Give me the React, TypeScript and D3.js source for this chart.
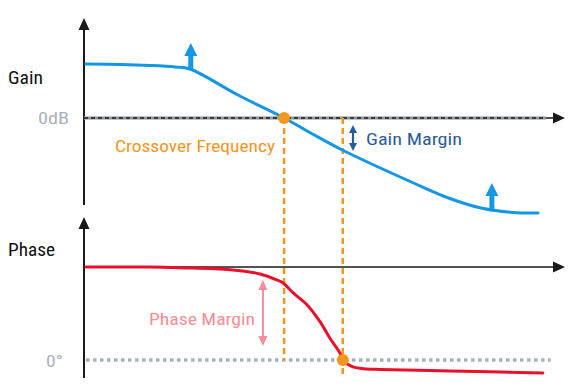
import React from "react";
import * as d3 from "d3";

// frequency index (0..10) vs gain in dB
const gainFreq = [0.04, 0.75, 1.37, 1.89, 2.2, 3.2, 4.16, 4.77, 5.38, 6.15, 6.84, 7.55, 8.23, 8.92, 9.44];
const gainDb = [21.6, 21.4, 21.0, 20.4, 19.6, 9.2, 0, -6.6, -12.9, -19.9, -25.9, -31.8, -35.9, -37.8, -38.0];

// frequency index vs phase in degrees
const phaseFreq = [0.04, 1.37, 2.0, 3.04, 3.66, 4.01, 4.14, 4.35, 4.64, 4.91, 5.11, 5.32, 5.38, 5.59, 5.88, 6.15, 7.61, 9.54];
const phaseDeg = [180, 180, 178.6, 174.8, 166.6, 155.0, 149.2, 129.8, 106.6, 73.6, 42.6, 13.6, 0, -13.6, -17.4, -18.4, -21.3, -25.2];

const crossoverFreq = 4.16;
const phaseCrossFreq = 5.38;
const gainArrowFreqs = [2.22, 8.48];
const gainArrowDb = [19.6, -37.0];
const gainMarginDb = [-2.8, -13.2];
const phaseMarginFreq = 3.72;
const phaseMarginDeg = [155, 27];

const W = 577;
const H = 388;
const FONT = "'Liberation Sans Narrow', 'Roboto Condensed', 'DejaVu Sans Condensed', Roboto, sans-serif";

const x = d3.scaleLinear().domain([0, 10]).range([84, 565]);
const yG = d3.scaleLinear().domain([-40, 30]).range([218, 43]);
const yP = d3.scaleLinear().domain([-35, 275]).range([378, 218]);

const BLUE = "#1597e5";
const ORANGE = "#f5961e";
const RED = "#e8102a";
const PINK = "#f58e98";
const DBLUE = "#2a5c9a";
const GRAY = "#a9b1b9";
const AX = "#1a1a1a";

function UpArrow({ cx, base, tip, color, shaft, headW, headH }: any) {
  const path = `M${cx - shaft / 2},${base} L${cx - shaft / 2},${tip + headH} L${cx - headW / 2},${tip + headH} L${cx},${tip} L${cx + headW / 2},${tip + headH} L${cx + shaft / 2},${tip + headH} L${cx + shaft / 2},${base} Z`;
  return <path d={path} fill={color} />;
}

function DoubleArrow({ cx, y1, y2, color, w, hw, hh }: any) {
  return (
    <g>
      <line x1={cx} x2={cx} y1={y1 + hh - 1} y2={y2 - hh + 1} stroke={color} strokeWidth={w} />
      <path d={`M${cx},${y1} L${cx - hw / 2},${y1 + hh} L${cx + hw / 2},${y1 + hh} Z`} fill={color} />
      <path d={`M${cx},${y2} L${cx - hw / 2},${y2 - hh} L${cx + hw / 2},${y2 - hh} Z`} fill={color} />
    </g>
  );
}

export default function App() {
  const gainLine = d3
    .line<number>()
    .x((_, i) => x(gainFreq[i]))
    .y((d) => yG(d))
    .curve(d3.curveCatmullRom.alpha(0.5))(gainDb);
  const phaseLine = d3
    .line<number>()
    .x((_, i) => x(phaseFreq[i]))
    .y((d) => yP(d))
    .curve(d3.curveCatmullRom.alpha(0.5))(phaseDeg);

  const x0 = x(0);
  const xEnd = x(10);
  const g0 = yG(0);
  const pTop = yP(180);
  const p0 = yP(0);

  return (
    <svg width={W} height={H} style={{ position: "absolute", left: 0, top: 0, background: "#fff" }}>
      <rect width={W} height={H} fill="#fff" />

      {/* Gain axes */}
      <line x1={x0} x2={x0} y1={205} y2={28} stroke={AX} strokeWidth={2} />
      <path d={`M${x0},18 L${x0 - 5.5},30 L${x0 + 5.5},30 Z`} fill={AX} />
      <line x1={x0} x2={xEnd - 10} y1={g0} y2={g0} stroke={AX} strokeWidth={1.6} />
      <line x1={x0} x2={x(9.6)} y1={g0} y2={g0} stroke={GRAY} strokeWidth={4} opacity={0.75} />
      <line x1={x0} x2={x(9.6)} y1={g0} y2={g0} stroke={AX} strokeWidth={1.4} strokeDasharray="4 3" />
      <path d={`M${xEnd},${g0} L${xEnd - 12},${g0 - 5.5} L${xEnd - 12},${g0 + 5.5} Z`} fill={AX} />

      {/* Phase axes */}
      <line x1={x0} x2={x0} y1={378} y2={228} stroke={AX} strokeWidth={2} />
      <path d={`M${x0},217 L${x0 - 5.5},229 L${x0 + 5.5},229 Z`} fill={AX} />
      <line x1={x0} x2={xEnd - 10} y1={pTop} y2={pTop} stroke={AX} strokeWidth={1.6} />
      <path d={`M${xEnd},${pTop} L${xEnd - 12},${pTop - 5.5} L${xEnd - 12},${pTop + 5.5} Z`} fill={AX} />
      <line x1={x0 + 2} x2={x(9.7)} y1={p0} y2={p0} stroke={GRAY} strokeWidth={3.5} strokeDasharray="3.5 3.5" />

      {/* Orange crossover lines */}
      <line x1={x(crossoverFreq)} x2={x(crossoverFreq)} y1={g0} y2={p0} stroke={ORANGE} strokeWidth={2.5} strokeDasharray="6 4" />
      <line x1={x(phaseCrossFreq)} x2={x(phaseCrossFreq)} y1={g0} y2={378} stroke={ORANGE} strokeWidth={2.5} strokeDasharray="6 4" />

      {/* Curves */}
      <path d={gainLine || ""} fill="none" stroke={BLUE} strokeWidth={3} strokeLinejoin="round" strokeLinecap="round" />
      <path d={phaseLine || ""} fill="none" stroke={RED} strokeWidth={3} strokeLinejoin="round" strokeLinecap="round" />

      {/* Blue arrows */}
      <UpArrow cx={x(gainArrowFreqs[0])} base={yG(gainArrowDb[0]) + 1} tip={43} color={BLUE} shaft={5} headW={13} headH={13} />
      <UpArrow cx={x(gainArrowFreqs[1])} base={yG(gainArrowDb[1]) + 1} tip={183} color={BLUE} shaft={5} headW={13} headH={13} />

      {/* Margins */}
      <DoubleArrow cx={353} y1={yG(gainMarginDb[0])} y2={yG(gainMarginDb[1])} color={DBLUE} w={2.2} hw={8} hh={8} />
      <DoubleArrow cx={x(phaseMarginFreq)} y1={yP(phaseMarginDeg[0])} y2={yP(phaseMarginDeg[1])} color={PINK} w={2} hw={9} hh={10} />

      {/* Dots */}
      <circle cx={x(crossoverFreq)} cy={g0} r={6} fill={ORANGE} />
      <circle cx={x(phaseCrossFreq)} cy={p0} r={6} fill={ORANGE} />

      {/* Labels */}
      <g fontFamily={FONT}>
        <text x={8} y={84} fontSize={18} fill="#111" textLength={35} lengthAdjust="spacingAndGlyphs">Gain</text>
        <text x={8} y={256} fontSize={18} fill="#111" textLength={47} lengthAdjust="spacingAndGlyphs">Phase</text>
        <text x={69} y={124} fontSize={16} fill={GRAY} textAnchor="end" textLength={31} lengthAdjust="spacingAndGlyphs">0dB</text>
        <text x={63} y={367} fontSize={17} fill={GRAY} textAnchor="end" textLength={17} lengthAdjust="spacingAndGlyphs">0°</text>
        <text x={115} y={152} fontSize={17} fill={ORANGE} textLength={160} lengthAdjust="spacingAndGlyphs">Crossover Frequency</text>
        <text x={366} y={145} fontSize={17} fill={DBLUE} textLength={96} lengthAdjust="spacingAndGlyphs">Gain Margin</text>
        <text x={149} y={325} fontSize={17} fill={PINK} textLength={106} lengthAdjust="spacingAndGlyphs">Phase Margin</text>
      </g>
    </svg>
  );
}
